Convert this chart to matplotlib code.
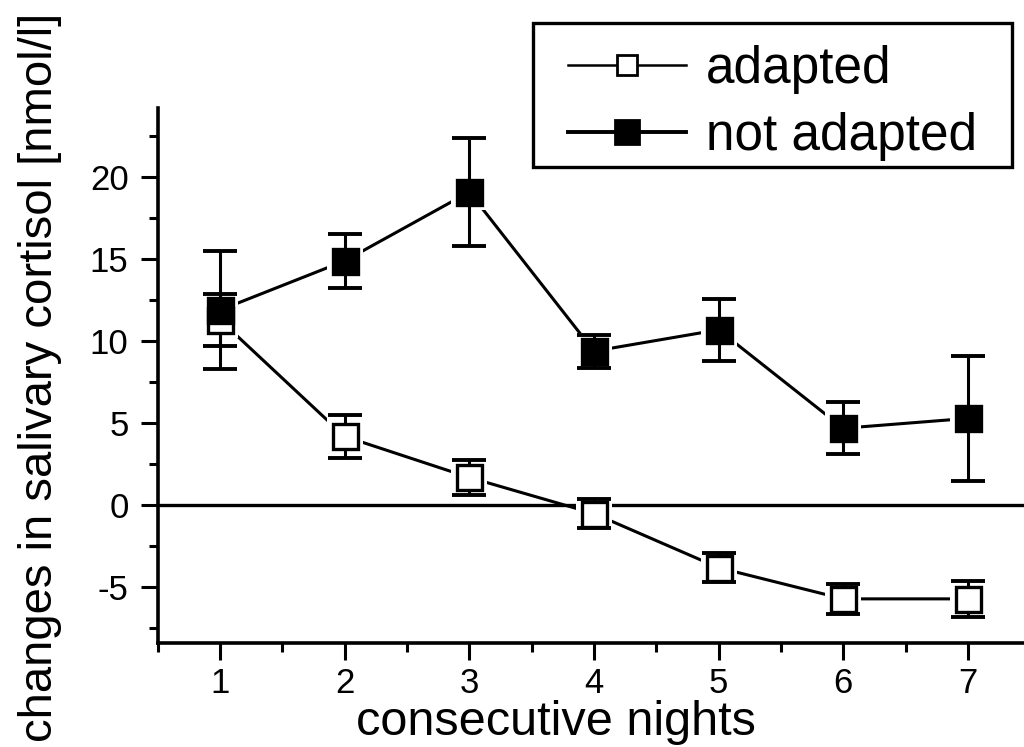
import numpy as np
import matplotlib
matplotlib.use("Agg")
import matplotlib.pyplot as plt
from matplotlib.lines import Line2D
from matplotlib.patches import Rectangle
from matplotlib.ticker import MultipleLocator

plt.rcParams['font.family'] = ['Liberation Sans', 'DejaVu Sans']
plt.rcParams['axes.unicode_minus'] = False

# salivary cortisol change per night (mean +- error)
nights = [1, 2, 3, 4, 5, 6, 7]
adapted_mean = [11.3, 4.2, 1.7, -0.5, -3.8, -5.7, -5.7]
adapted_err = [1.6, 1.3, 1.05, 0.9, 0.9, 0.9, 1.1]
not_adapted_mean = [11.9, 14.9, 19.1, 9.4, 10.7, 4.7, 5.3]
not_adapted_err = [3.6, 1.65, 3.3, 1.0, 1.9, 1.6, 3.8]

labels = ["adapted", "not adapted"]

W, H = 1024, 747
fig = plt.figure(figsize=(W / 100, H / 100), dpi=100)
ax = fig.add_axes([0.154, 0.139, 0.846, 0.716])

ms = 18
gap_ms = 26


def draw_series(mean, err, face, lw):
    # connecting line, white halo so line stops short of the symbols
    ax.plot(nights, mean, color="black", lw=lw, zorder=2)
    ax.plot(nights, mean, ls="none", marker="s", ms=gap_ms, mfc="white",
            mec="white", mew=0, zorder=3)
    ax.errorbar(nights, mean, yerr=err, fmt="none", ecolor="black",
                elinewidth=2.2, capsize=12, capthick=2.8, zorder=4)
    ax.plot(nights, mean, ls="none", marker="s", ms=ms, mfc=face,
            mec="black", mew=2.4, zorder=5)


draw_series(adapted_mean, adapted_err, "white", 2.2)
draw_series(not_adapted_mean, not_adapted_err, "black", 2.2)

ax.axhline(0, color="black", lw=2.4, zorder=1)

ax.set_xlim(0.5, 7.45)
ax.set_ylim(-8.4, 24.2)
ax.xaxis.set_major_locator(MultipleLocator(1))
ax.xaxis.set_minor_locator(MultipleLocator(0.5))
ax.yaxis.set_major_locator(MultipleLocator(5))
ax.yaxis.set_minor_locator(MultipleLocator(2.5))

for s in ["top", "right"]:
    ax.spines[s].set_visible(False)
for s in ["left", "bottom"]:
    ax.spines[s].set_linewidth(2.6)

ax.tick_params(which="major", direction="out", length=12, width=2.2, labelsize=25)
ax.tick_params(axis="y", which="major", pad=9)
ax.tick_params(axis="x", which="major", pad=5)
ax.tick_params(which="minor", direction="out", length=6.5, width=2.2)

ax.set_xlabel("consecutive nights", fontsize=35)
ax.set_ylabel("changes in salivary cortisol [nmol/l]", fontsize=34)
ax.xaxis.set_label_coords(0.46, -0.106)
ax.yaxis.set_label_coords(-0.111, 0.497)

# legend: frame drawn as its own box, entries centred inside it
box_l, box_r, box_t, box_b = 533, 1012, 23, 167
fig.patches.append(Rectangle((box_l / W, 1 - box_b / H),
                             (box_r - box_l) / W, (box_b - box_t) / H,
                             transform=fig.transFigure, fill=False,
                             ec="black", lw=2.4))

handles = [
    Line2D([], [], color="black", lw=1.8, marker="s", ms=15,
           mfc="white", mec="black", mew=2.0),
    Line2D([], [], color="black", lw=2.8, marker="s", ms=17,
           mfc="black", mec="black", mew=2.0),
]
fig.legend(handles, labels, loc="center",
           bbox_to_anchor=((box_l + box_r) / 2 / W, 1 - ((box_t + box_b) / 2 + 8) / H),
           fontsize=37, frameon=False, handlelength=2.3,
           handletextpad=0.4, labelspacing=0.36, borderpad=0,
           borderaxespad=0)

fig.savefig("out.png", dpi=100)
